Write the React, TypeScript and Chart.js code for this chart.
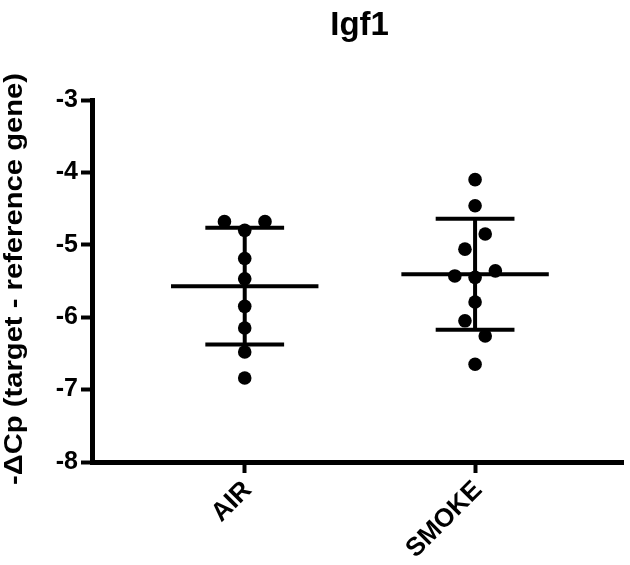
import React, { useEffect, useRef } from "react";
import { Chart, registerables } from "chart.js";

Chart.register(...registerables);

const chartTitle = "Igf1";
const yAxisTitle = "-\u0394Cp (target - reference gene)";
const categories = ["AIR", "SMOKE"];
const airValues = [-4.68, -4.8, -4.68, -5.19, -5.47, -5.85, -6.15, -6.48, -6.84];
const smokeValues = [-4.1, -4.46, -5.06, -4.85, -5.43, -5.45, -5.36, -5.79, -6.05, -6.26, -6.65];
const yTickValues = [-8, -7, -6, -5, -4, -3];

const FONT = "'Liberation Sans', Arial, Helvetica, sans-serif";
const STEP = 0.088; // horizontal spacing of crowded points (x units)
const CLUSTER = 0.24; // values closer than this share a row
const MEAN_HALF = 0.32;
const SD_HALF = 0.171;

function spread(values: number[], center: number) {
  const order = values.map((_, i) => i).sort((a, b) => values[b] - values[a]);
  const clusters: number[][] = [];
  let cur: number[] = [];
  order.forEach((idx, k) => {
    if (k > 0 && values[order[k - 1]] - values[idx] > CLUSTER) {
      clusters.push(cur);
      cur = [];
    }
    cur.push(idx);
  });
  if (cur.length) clusters.push(cur);
  const pts: { x: number; y: number }[] = [];
  clusters.forEach((c) => {
    const members = [...c].sort((a, b) => a - b);
    members.forEach((idx, k) => {
      pts.push({ x: center + (k - (members.length - 1) / 2) * STEP, y: values[idx] });
    });
  });
  return pts;
}

function stats(values: number[]) {
  const n = values.length;
  const mean = values.reduce((a, b) => a + b, 0) / n;
  const sd = Math.sqrt(values.reduce((a, b) => a + (b - mean) ** 2, 0) / (n - 1));
  return { mean, sd };
}

function lineDs(data: { x: number; y: number }[]) {
  return {
    type: "line" as const,
    data,
    borderColor: "#000",
    borderWidth: 4,
    borderCapStyle: "butt" as const,
    pointRadius: 0,
    fill: false,
    order: 2,
  };
}

export default function App() {
  const ref = useRef<HTMLCanvasElement | null>(null);
  useEffect(() => {
    if (!ref.current) return;
    const groups = [airValues, smokeValues];
    const datasets: any[] = [];
    groups.forEach((vals, gi) => {
      const c = gi + 1;
      const { mean, sd } = stats(vals);
      datasets.push(lineDs([{ x: c - MEAN_HALF, y: mean }, { x: c + MEAN_HALF, y: mean }]));
      datasets.push(lineDs([{ x: c - SD_HALF, y: mean + sd }, { x: c + SD_HALF, y: mean + sd }]));
      datasets.push(lineDs([{ x: c - SD_HALF, y: mean - sd }, { x: c + SD_HALF, y: mean - sd }]));
      datasets.push(lineDs([{ x: c, y: mean + sd }, { x: c, y: mean - sd }]));
      datasets.push({
        type: "scatter",
        data: spread(vals, c),
        backgroundColor: "#000",
        borderWidth: 0,
        pointRadius: 6.8,
        order: 1,
      });
    });

    const textPlugin = {
      id: "texts",
      afterDraw(chart: any) {
        const { ctx, chartArea } = chart;
        ctx.save();
        ctx.fillStyle = "#000";
        ctx.font = `bold 33px ${FONT}`;
        ctx.textAlign = "center";
        ctx.textBaseline = "alphabetic";
        ctx.fillText(chartTitle, (chartArea.left + chartArea.right) / 2 + 2, 35);
        ctx.restore();

        ctx.save();
        ctx.fillStyle = "#000";
        ctx.font = `bold 25px ${FONT}`;
        const w = ctx.measureText(yAxisTitle).width;
        const target = 412;
        ctx.translate(15, (chartArea.top + chartArea.bottom) / 2 - 2);
        ctx.rotate(-Math.PI / 2);
        ctx.scale(target / w, 1);
        ctx.textAlign = "center";
        ctx.textBaseline = "middle";
        ctx.fillText(yAxisTitle, 0, 0);
        ctx.restore();
      },
    };

    const chart = new Chart(ref.current, {
      type: "scatter",
      data: { datasets },
      options: {
        animation: false,
        responsive: false,
        layout: { padding: { top: 100, left: 0, right: 0, bottom: 0 } },
        plugins: { legend: { display: false }, tooltip: { enabled: false }, title: { display: false } },
        scales: {
          x: {
            type: "linear",
            min: 0.337,
            max: 2.643,
            afterBuildTicks: (s: any) => {
              s.ticks = categories.map((_, i) => ({ value: i + 1 }));
            },
            afterFit: (s: any) => {
              s.height = 103;
            },
            ticks: {
              autoSkip: false,
              minRotation: 45,
              maxRotation: 45,
              padding: 2,
              labelOffset: 3,
              color: "#000",
              font: { family: FONT, size: 26, weight: "bold" },
              callback: (v: any) => categories[Math.round(Number(v)) - 1] ?? "",
            },
            grid: { drawOnChartArea: false, drawTicks: true, tickLength: 11, tickWidth: 4, tickColor: "#000" },
            border: { display: true, width: 5, color: "#000" },
          },
          y: {
            type: "linear",
            min: yTickValues[0],
            max: yTickValues[yTickValues.length - 1],
            afterBuildTicks: (s: any) => {
              s.ticks = yTickValues.map((v) => ({ value: v }));
            },
            afterFit: (s: any) => {
              s.width = 92;
            },
            ticks: {
              padding: 3,
              color: "#000",
              font: { family: FONT, size: 25, weight: "bold" },
              callback: (v: any) => String(v),
            },
            grid: { drawOnChartArea: false, drawTicks: true, tickLength: 11, tickWidth: 4, tickColor: "#000" },
            border: { display: true, width: 5, color: "#000" },
          },
        },
      },
      plugins: [textPlugin],
    } as any);
    return () => chart.destroy();
  }, []);

  return (
    <div style={{ position: "absolute", left: 0, top: 0, width: 630, height: 565, background: "#fff" }}>
      <canvas ref={ref} width={630} height={565} style={{ display: "block" }} />
    </div>
  );
}
